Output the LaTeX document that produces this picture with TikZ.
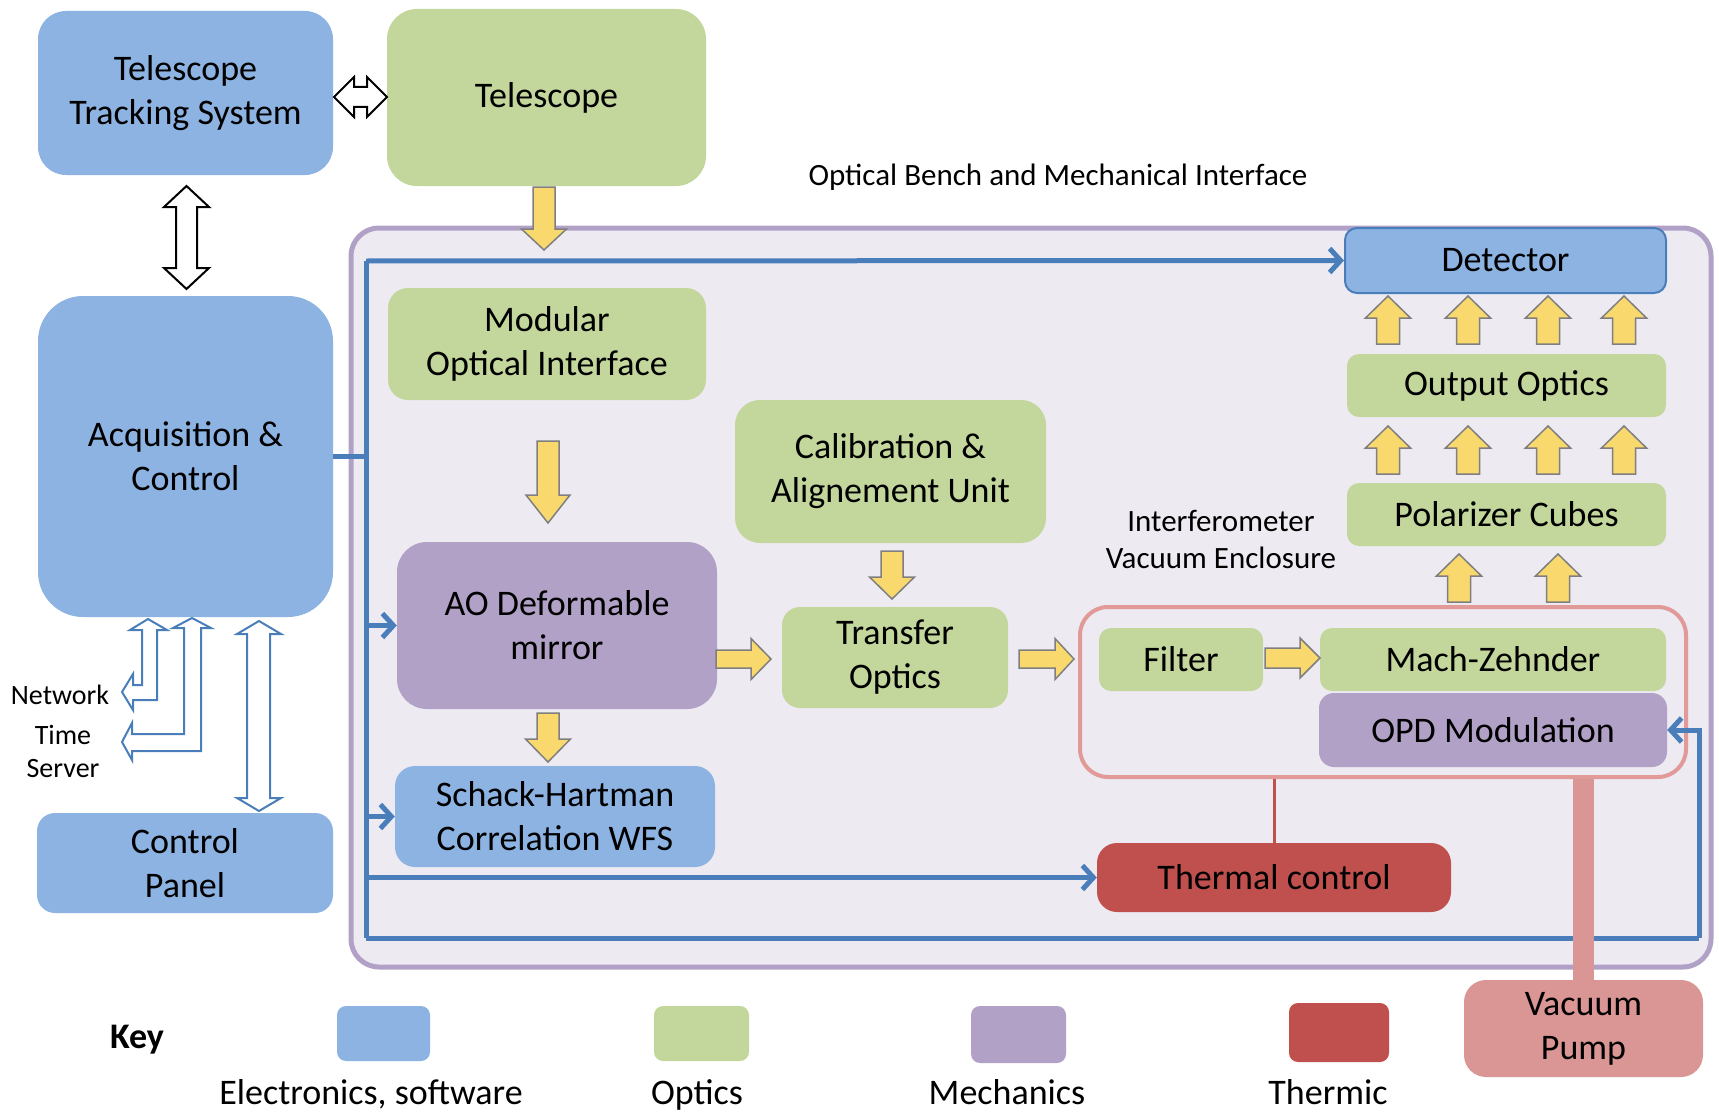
\documentclass[tikz,border=0pt]{standalone}
\usepackage{fontspec}
\setmainfont{Carlito}
\usetikzlibrary{arrows.meta,calc}
\definecolor{cblue}{RGB}{141,179,226}
\definecolor{cgreen}{RGB}{195,214,155}
\definecolor{cpurple}{RGB}{178,161,199}
\definecolor{cred}{RGB}{192,80,77}
\definecolor{cpink}{RGB}{217,150,148}
\definecolor{cencl}{RGB}{226,154,152}
\definecolor{cframe}{RGB}{237,234,242}
\definecolor{cline}{RGB}{74,126,187}
\definecolor{cyellow}{RGB}{249,216,110}
\definecolor{cgray}{RGB}{127,127,127}
\tikzset{
  box/.style={rounded corners=#1, inner sep=0pt, align=center, font=\fontsize{36}{44}\selectfont},
  box/.default=15pt,
  lab/.style={align=center, inner sep=0pt, font=\fontsize{31}{37}\selectfont},
  keylab/.style={anchor=base, inner sep=0pt, font=\fontsize{36}{44}\selectfont},
  bus/.style={draw=cline, line width=5pt},
  busarrow/.style={bus, -{Straight Barb[length=11pt,width=24pt]}},
  yellowarrow/.style={fill=cyellow, draw=cgray, line width=1.5pt, line join=miter},
  outarrow/.style={fill=white, draw=cline, line width=2pt, line join=miter},
  blkarrow/.style={fill=white, draw=black, line width=2pt, line join=miter},
  swatch/.style={rounded corners=9pt, inner sep=0pt},
}
\newcommand{\yarr}[6]{%
  \begin{scope}[shift={#1}, rotate=#2]
    \draw[yellowarrow] (0,-#5) -- ({#3-#4},-#5) -- ({#3-#4},-#6) -- (#3,0) -- ({#3-#4},#6) -- ({#3-#4},#5) -- (0,#5) -- cycle;
  \end{scope}}
\begin{document}
\begin{tikzpicture}[x=1pt,y=-1pt]
\useasboundingbox (0,0) rectangle (1719,1113);

% optical bench frame
\node[draw=cpurple, fill=cframe, line width=5pt, rounded corners=28pt, minimum width=1360pt, minimum height=739pt, inner sep=0pt] (bench) at (1031,597.5) {};
\node[lab] (oblabel) at (1058,177) {Optical Bench and Mechanical Interface};

% top-level boxes
\node[box=28pt, fill=cblue, minimum width=295pt, minimum height=164pt] (tts) at (185.5,93) {Telescope\\Tracking System};
\node[box=30pt, fill=cgreen, minimum width=319pt, minimum height=177pt] (tel) at (546.5,97.5) {Telescope};
\node[box=45pt, fill=cblue, minimum width=295pt, minimum height=321pt] (acq) at (185.5,456.5) {Acquisition \&\\Control};
\node[box=18pt, fill=cblue, minimum width=296pt, minimum height=100pt] (cp) at (185,863) {Control\\Panel};

% bus lines
\coordinate (tl) at (366,261);
\coordinate (bl) at (366,938);
\coordinate (br) at (1699,938);
\draw[bus] (tl) -- (bl);
\draw[bus] (acq.east) -- (acq.east -| tl);

% inner boxes
\node[box=20pt, fill=cgreen, minimum width=318pt, minimum height=112pt] (moi) at (547,344) {Modular\\Optical Interface};
\node[box=30pt, fill=cpurple, minimum width=320pt, minimum height=167pt] (ao) at (557,625.5) {AO Deformable\\mirror};
\node[box=25pt, fill=cgreen, minimum width=311pt, minimum height=143pt] (cal) at (890.5,471.5) {Calibration \&\\Alignement Unit};
\node[box=18pt, fill=cgreen, minimum width=226pt, minimum height=101pt] (tr) at (895,657.5) {Transfer\\Optics};
\node[box=20pt, fill=cblue, minimum width=320pt, minimum height=101pt] (sh) at (555,816.5) {Schack-Hartman\\Correlation WFS};
\node[box=12pt, fill=cblue, draw=cline, line width=2pt, minimum width=321pt, minimum height=65pt] (det) at (1505.5,260.5) {Detector};
\node[box=12pt, fill=cgreen, minimum width=319pt, minimum height=63pt] (oo) at (1506.5,385.5) {Output Optics};
\node[box=12pt, fill=cgreen, minimum width=319pt, minimum height=63pt] (pc) at (1506.5,514.5) {Polarizer Cubes};
\node[draw=cencl, line width=4pt, rounded corners=28pt, minimum width=606pt, minimum height=170pt, inner sep=0pt] (encl) at (1383,692) {};
\node[lab] (ivlabel) at (1221,539) {Interferometer\\Vacuum Enclosure};
\node[box=12pt, fill=cgreen, minimum width=164pt, minimum height=63pt] (filt) at (1181,659.5) {Filter};
\node[box=12pt, fill=cgreen, minimum width=346pt, minimum height=63pt] (mz) at (1493,659.5) {Mach-Zehnder};
\node[box=15pt, fill=cpurple, minimum width=348pt, minimum height=74pt] (opd) at (1493,730) {OPD Modulation};
\node[box=20pt, fill=cred, minimum width=354pt, minimum height=69pt] (th) at (1274,877.5) {Thermal control};
\node[box=22pt, fill=cpink, minimum width=239pt, minimum height=97pt] (vp) at (1583.5,1028.5) {Vacuum\\Pump};

% bus arrows
\draw[busarrow] (tl) -- (det.west);
\draw[busarrow] (ao.west -| tl) -- (ao.west);
\draw[busarrow] (sh.west -| tl) -- (sh.west);
\draw[busarrow] (th.west -| tl) -- (th.west);
\draw[bus] (bl) -- (br);
\draw[busarrow] (br) |- (opd.east);

% thermal and vacuum links
\draw[draw=cred, line width=3pt] (th.north) -- (th.north |- encl.south);
\draw[draw=cpink, line width=21pt] (vp.north) -- (vp.north |- encl.south);

% yellow optical arrows
\yarr{(544,187)}{-90}{63}{21}{11}{22.5}
\yarr{(548,441)}{-90}{82}{28}{11}{22}
\yarr{(892,551)}{-90}{48}{22}{11}{22.5}
\yarr{(548,713)}{-90}{49}{23}{11}{22.5}
\yarr{(716,659)}{0}{55}{20}{9}{20.5}
\yarr{(1019,659)}{0}{55}{19}{9}{20.5}
\yarr{(1265,658)}{0}{55}{20}{10}{20}
\foreach \xx in {1388,1468,1548,1624} {
  \yarr{(\xx,344)}{90}{48}{22}{11.5}{22.5}
  \yarr{(\xx,474)}{90}{48}{22}{11.5}{22.5}
}
\yarr{(1459,602)}{90}{48}{22}{11.5}{22.5}
\yarr{(1558,602)}{90}{48}{22}{11.5}{22.5}

% black double arrows
\draw[blkarrow] (334,97) -- (354,77) -- (354,87) -- (367,87) -- (367,77) -- (387,97) -- (367,117) -- (367,107) -- (354,107) -- (354,117) -- cycle;
\draw[blkarrow] (186.5,186) -- (209,207) -- (197,207) -- (197,268) -- (209,268) -- (186.5,289) -- (164,268) -- (176,268) -- (176,207) -- (164,207) -- cycle;

% network / time server arrows
\draw[outarrow] (148,619) -- (167,630) -- (157,630) -- (157,700) -- (133,700) -- (133,710) -- (122,692) -- (133,674) -- (133,685) -- (142,685) -- (142,630) -- (130,630) -- cycle;
\draw[outarrow] (192,618) -- (211,628) -- (201,628) -- (201,751) -- (132,751) -- (132,760) -- (122,742) -- (132,723) -- (132,734) -- (184,734) -- (184,628) -- (173,628) -- cycle;
\draw[outarrow] (259,621) -- (281,634) -- (270,634) -- (270,798) -- (281,798) -- (259,811) -- (237,798) -- (247,798) -- (247,634) -- (237,634) -- cycle;
\node[font=\fontsize{28}{33}\selectfont, inner sep=0pt] (net) at (60,695) {Network};
\node[font=\fontsize{28}{33}\selectfont, inner sep=0pt, align=center] (ts) at (63,751) {Time\\Server};

% key
\node[keylab, font=\bfseries\fontsize{36}{44}\selectfont] (key) at (137,1048) {Key};
\node[swatch, fill=cblue, minimum width=93pt, minimum height=55pt] (kblue) at (383.5,1033.5) {};
\node[swatch, fill=cgreen, minimum width=95pt, minimum height=55pt] (kgreen) at (701.5,1033.5) {};
\node[swatch, fill=cpurple, minimum width=95pt, minimum height=57pt] (kpurple) at (1018.5,1034.5) {};
\node[swatch, fill=cred, minimum width=100pt, minimum height=59pt] (kred) at (1339,1032.5) {};
\node[keylab] (lblue) at (371,1104) {Electronics, software};
\node[keylab] (lgreen) at (697,1104) {Optics};
\node[keylab] (lpurple) at (1007,1104) {Mechanics};
\node[keylab] (lred) at (1328,1104) {Thermic};
\end{tikzpicture}
\end{document}
